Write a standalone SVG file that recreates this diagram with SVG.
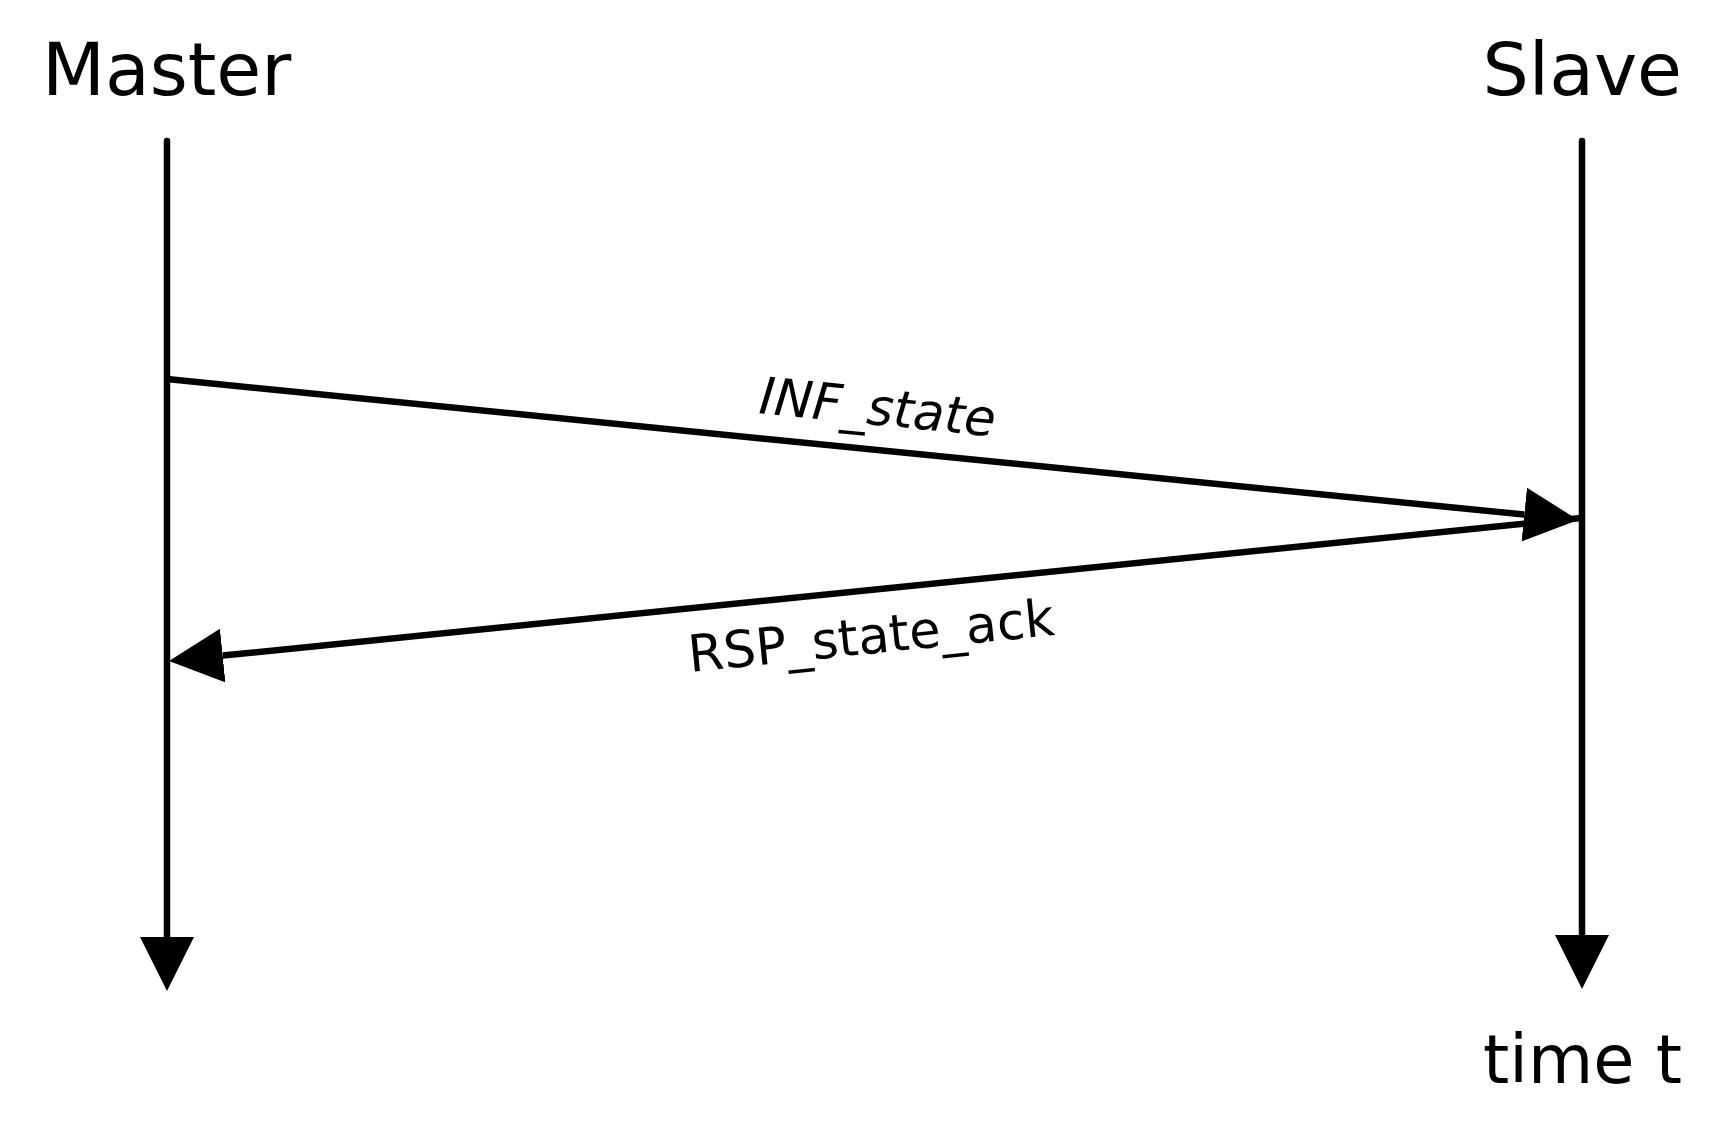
<svg xmlns="http://www.w3.org/2000/svg" width="1725" height="1131" viewBox="0 0 1725 1131">
  <style>
    .hdr { font-family: "DejaVu Sans", Verdana, sans-serif; font-size: 73px; fill: #000; }
    .lbl { font-family: "DejaVu Sans", Verdana, sans-serif; font-size: 51px; fill: #000; }
    .life { stroke: #000; stroke-width: 6.5; fill: none; stroke-linecap: round; }
    .msg { stroke: #000; stroke-width: 6.5; fill: none; }
  </style>
  <defs>
    <marker id="arrow" markerUnits="userSpaceOnUse" viewBox="0 0 54 54" refX="0" refY="27" markerWidth="54" markerHeight="54" orient="auto">
      <path d="M0,0 L54,27 L0,54 Z" fill="#000"/>
    </marker>
  </defs>
  <rect width="1725" height="1131" fill="#fff"/>
  <g id="master">
    <text class="hdr" x="42" y="95">Master</text>
  </g>
  <g id="slave">
    <text class="hdr" x="1682" y="95" text-anchor="end">Slave</text>
  </g>
  <g id="time-label">
    <text class="hdr" x="1682" y="1083" text-anchor="end" style="font-size:67px">time t</text>
  </g>
  <g id="connectors">
    <line class="life" x1="167" y1="141" x2="167" y2="937" marker-end="url(#arrow)"/>
    <line class="life" x1="1582" y1="141" x2="1582" y2="935" marker-end="url(#arrow)"/>
    <line class="msg" x1="167" y1="379" x2="1524.3" y2="514.6" marker-end="url(#arrow)"/>
    <line class="msg" x1="1581" y1="518" x2="222.7" y2="655.6" marker-end="url(#arrow)"/>
    <text class="lbl" x="758" y="413" font-style="italic" transform="rotate(5.7 758 413)">INF_state</text>
    <text class="lbl" x="690" y="672" transform="rotate(-5.8 690 672)">RSP_state_ack</text>
  </g>
</svg>
